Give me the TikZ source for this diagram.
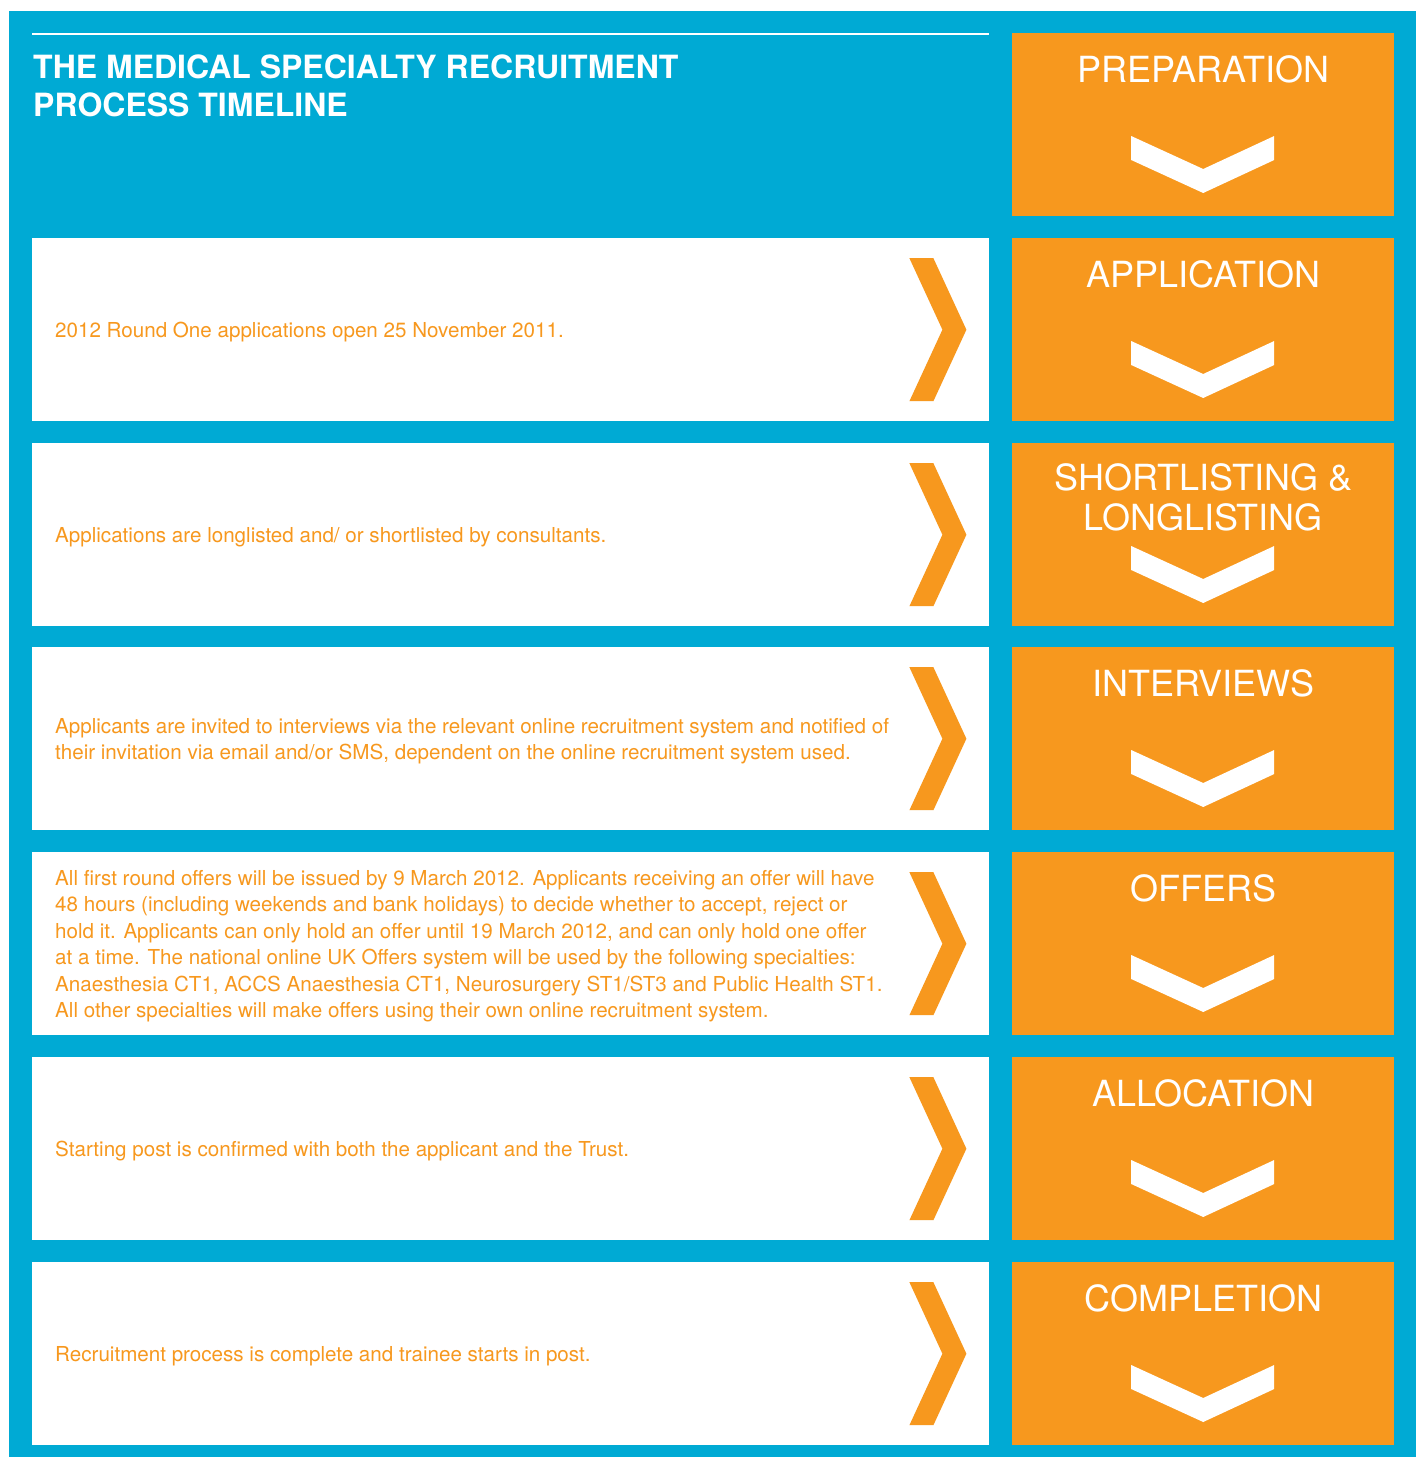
\documentclass[tikz,border=0pt]{standalone}
\usepackage{fontspec}
\setmainfont{TeX Gyre Heros}
\usepackage{tikz}
\usetikzlibrary{positioning}
\usepackage{xcolor}
\definecolor{panelblue}{RGB}{0, 170, 212}
\definecolor{stageorange}{RGB}{247, 152, 30}

\begin{document}
\begin{tikzpicture}[x=1pt, y=-1pt,
    stagebox/.style={fill=stageorange, minimum width=382pt, minimum height=183pt, anchor=north west, inner sep=0pt},
    descbox/.style={fill=white, minimum width=957pt, minimum height=183pt, anchor=north west, inner sep=0pt},
    stagelabel/.style={text=white, inner sep=0pt, align=center, font=\fontsize{36}{40}\selectfont},
    desctext/.style={text=stageorange, inner sep=0pt, align=left, yshift=-2.5pt, font=\fontsize{20.6}{26.5}\selectfont}]
  \useasboundingbox (0,0) rectangle (1420,1457);
  \fill[panelblue] (9,11) rectangle (1416,1457);

  % heading block
  \draw[white, line width=1.2pt] (32,34) -- (989,34);
  \node[text=white, anchor=north west, inner sep=0pt, align=left,
        font=\fontsize{32}{37.5}\selectfont\bfseries] (title) at (33,55)
        {THE MEDICAL SPECIALTY RECRUITMENT\\PROCESS TIMELINE};

  % orange stage column
  \node[stagebox] (stage1) at (1012,33) {};
  \node[stagebox] (stage2) at (1012,238) {};
  \node[stagebox] (stage3) at (1012,443) {};
  \node[stagebox] (stage4) at (1012,647) {};
  \node[stagebox] (stage5) at (1012,852) {};
  \node[stagebox] (stage6) at (1012,1057) {};
  \node[stagebox] (stage7) at (1012,1262) {};

  \node[stagelabel, below=22pt of stage1.north] (label1) {PREPARATION};
  \node[stagelabel, below=22pt of stage2.north] (label2) {APPLICATION};
  \node[stagelabel, below=20pt of stage3.north] (label3) {SHORTLISTING \&\\LONGLISTING};
  \node[stagelabel, below=22pt of stage4.north] (label4) {INTERVIEWS};
  \node[stagelabel, below=22pt of stage5.north] (label5) {OFFERS};
  \node[stagelabel, below=22pt of stage6.north] (label6) {ALLOCATION};
  \node[stagelabel, below=22pt of stage7.north] (label7) {COMPLETION};

  % white down chevrons
  \foreach \s in {1,...,7}
    \fill[white, shift={(stage\s.north)}] (-72,103) -- (0,136) -- (71,103)
      -- (71,127) -- (0,160) -- (-72,127) -- cycle;

  % white description panels
  \node[descbox] (desc2) at (32,238) {};
  \node[descbox] (desc3) at (32,443) {};
  \node[descbox] (desc4) at (32,647) {};
  \node[descbox] (desc5) at (32,852) {};
  \node[descbox] (desc6) at (32,1057) {};
  \node[descbox] (desc7) at (32,1262) {};

  \node[desctext, right=23pt of desc2.west] (text2) {2012 Round One applications open 25 November 2011.};
  \node[desctext, right=23pt of desc3.west] (text3) {Applications are longlisted and/ or shortlisted by consultants.};
  \node[desctext, right=23pt of desc4.west] (text4) {Applicants are invited to interviews via the relevant online recruitment system and notified of\\
    their invitation via email and/or SMS, dependent on the online recruitment system used.};
  \node[desctext, right=23pt of desc5.west] (text5) {All first round offers will be issued by 9 March 2012. Applicants receiving an offer will have\\
    48 hours (including weekends and bank holidays) to decide whether to accept, reject or\\
    hold it. Applicants can only hold an offer until 19 March 2012, and can only hold one offer\\
    at a time. The national online UK Offers system will be used by the following specialties:\\
    Anaesthesia CT1, ACCS Anaesthesia CT1, Neurosurgery ST1/ST3 and Public Health ST1.\\
    All other specialties will make offers using their own online recruitment system.};
  \node[desctext, right=23pt of desc6.west] (text6) {Starting post is confirmed with both the applicant and the Trust.};
  \node[desctext, right=23pt of desc7.west] (text7) {Recruitment process is complete and trainee starts in post.};

  % orange side chevrons
  \foreach \d in {2,...,7}
    \fill[stageorange, shift={(desc\d.east)}] (-80,-71.5) -- (-56,-71.5) -- (-23,0)
      -- (-56,71.5) -- (-80,71.5) -- (-47,0) -- cycle;
\end{tikzpicture}
\end{document}
